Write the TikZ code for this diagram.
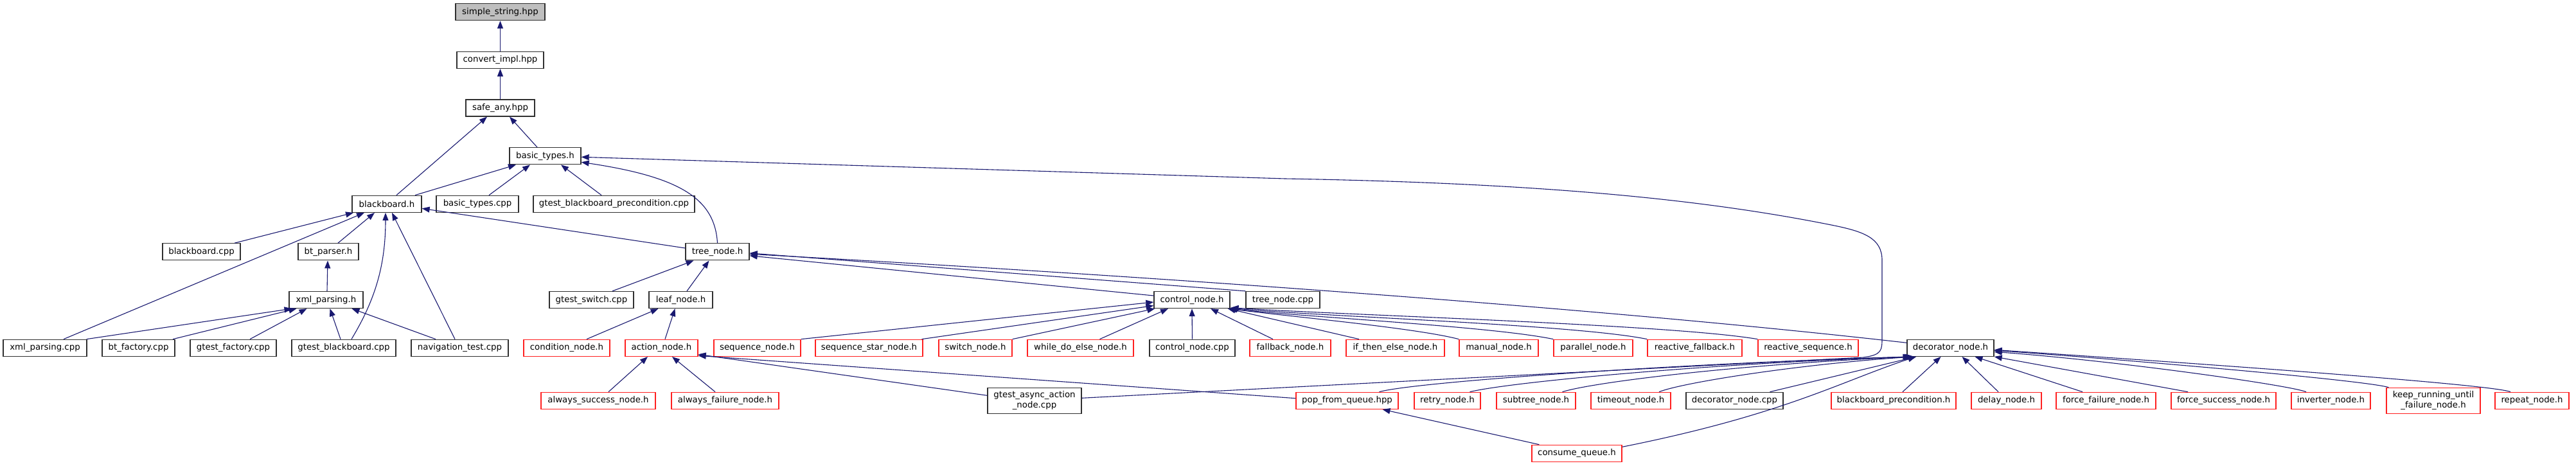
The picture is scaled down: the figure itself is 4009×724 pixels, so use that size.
\documentclass[tikz,border=0pt]{standalone}
\usepackage{fontspec}
\setmainfont{DejaVu Sans}
\usetikzlibrary{arrows.meta}
\definecolor{edgeblue}{HTML}{191970}
\definecolor{nodered}{HTML}{FF2020}
\definecolor{rootgray}{HTML}{BFBFBF}
\definecolor{boxline}{HTML}{303030}
\tikzset{
  box/.style={draw=boxline, line width=1.3pt, fill=white, minimum height=26pt, inner sep=0pt, align=center,
    font=\fontsize{13.33pt}{15.7pt}\selectfont},
  rbox/.style={box, draw=nodered},
  tall/.style={minimum height=40pt},
  edge/.style={draw=edgeblue, line width=1.1pt, -{Triangle[length=12pt,width=9pt]}},
}
\begin{document}
\begin{tikzpicture}[x=1pt,y=-1pt]
\useasboundingbox (0,0) rectangle (4009,724);
\fill[white] (0,0) rectangle (4009,724);
% row 1-5
\node[box,fill=rootgray,minimum width=139pt] (ss) at (778.5,18.7) {simple\_string.hpp};
\node[box,minimum width=135pt] (ci) at (778.5,93.3) {convert\_impl.hpp};
\node[box,minimum width=107pt] (sa) at (778.5,168) {safe\_any.hpp};
\node[box,minimum width=111pt] (bt) at (848.5,242.7) {basic\_types.h};
\node[box,minimum width=108pt] (bb) at (602,317.3) {blackboard.h};
\node[box,minimum width=128pt] (btc) at (743,317.3) {basic\_types.cpp};
\node[box,minimum width=251pt] (gbp) at (955.5,317.3) {gtest\_blackboard\_precondition.cpp};
% row 6
\node[box,minimum width=121pt] (bbc) at (313.5,391.8) {blackboard.cpp};
\node[box,minimum width=94pt] (bp) at (511,391.8) {bt\_parser.h};
\node[box,minimum width=99pt] (tn) at (1116.5,391.8) {tree\_node.h};
% row 7
\node[box,minimum width=115pt] (xp) at (507.5,466.5) {xml\_parsing.h};
\node[box,minimum width=131pt] (gsw) at (920.5,466.5) {gtest\_switch.cpp};
\node[box,minimum width=99pt] (ln) at (1059.5,466.5) {leaf\_node.h};
\node[box,minimum width=118pt] (cn) at (1855,466.5) {control\_node.h};
\node[box,minimum width=115pt] (tnc) at (1996.5,466.5) {tree\_node.cpp};
% row 8
\node[box,minimum width=130pt] (xpc) at (70,541.3) {xml\_parsing.cpp};
\node[box,minimum width=113pt] (bf) at (215.5,541.3) {bt\_factory.cpp};
\node[box,minimum width=134pt] (gf) at (363,541.3) {gtest\_factory.cpp};
\node[box,minimum width=162pt] (gb) at (535,541.3) {gtest\_blackboard.cpp};
\node[box,minimum width=151pt] (nt) at (715.5,541.3) {navigation\_test.cpp};
\node[rbox,minimum width=134pt] (cond) at (882,541.3) {condition\_node.h};
\node[rbox,minimum width=113pt] (an) at (1029.5,541.3) {action\_node.h};
\node[rbox,minimum width=135pt] (seq) at (1178.5,541.3) {sequence\_node.h};
\node[rbox,minimum width=167pt] (seqs) at (1352.5,541.3) {sequence\_star\_node.h};
\node[rbox,minimum width=114pt] (sw) at (1518,541.3) {switch\_node.h};
\node[rbox,minimum width=165pt] (wde) at (1681.5,541.3) {while\_do\_else\_node.h};
\node[box,minimum width=133pt] (cnc) at (1855.5,541.3) {control\_node.cpp};
\node[rbox,minimum width=126pt] (fb) at (2008,541.3) {fallback\_node.h};
\node[rbox,minimum width=153pt] (ite) at (2171.5,541.3) {if\_then\_else\_node.h};
\node[rbox,minimum width=123pt] (man) at (2332.5,541.3) {manual\_node.h};
\node[rbox,minimum width=123pt] (par) at (2479.5,541.3) {parallel\_node.h};
\node[rbox,minimum width=147pt] (rf) at (2637.5,541.3) {reactive\_fallback.h};
\node[rbox,minimum width=156pt] (rs) at (2814,541.3) {reactive\_sequence.h};
\node[box,minimum width=135pt] (dn) at (3035.5,541.3) {decorator\_node.h};
% row 9
\node[rbox,minimum width=178pt] (asn) at (931,623.3) {always\_success\_node.h};
\node[rbox,minimum width=167pt] (afn) at (1128.5,623.3) {always\_failure\_node.h};
\node[box,tall,minimum width=146pt] (ga) at (1610,623.3) {gtest\_async\_action\\\_node.cpp};
\node[rbox,minimum width=159pt] (pq) at (2096.5,623.3) {pop\_from\_queue.hpp};
\node[rbox,minimum width=103pt] (rn) at (2252.5,623.3) {retry\_node.h};
\node[rbox,minimum width=123pt] (stn) at (2390.5,623.3) {subtree\_node.h};
\node[rbox,minimum width=124pt] (ton) at (2538,623.3) {timeout\_node.h};
\node[box,minimum width=151pt] (dnc) at (2699.5,623.3) {decorator\_node.cpp};
\node[rbox,minimum width=194pt] (bpc) at (2947,623.3) {blackboard\_precondition.h};
\node[rbox,minimum width=109pt] (dl) at (3122.5,623.3) {delay\_node.h};
\node[rbox,minimum width=155pt] (ff) at (3277.5,623.3) {force\_failure\_node.h};
\node[rbox,minimum width=163pt] (fs) at (3460.5,623.3) {force\_success\_node.h};
\node[rbox,minimum width=123pt] (inv) at (3627.5,623.3) {inverter\_node.h};
\node[rbox,tall,minimum width=146pt] (kr) at (3787,623.3) {keep\_running\_until\\\_failure\_node.h};
\node[rbox,minimum width=115pt] (rp) at (3940.5,623.3) {repeat\_node.h};
% row 10
\node[rbox,minimum width=140pt] (cq) at (2454,705.3) {consume\_queue.h};

% ---- edges ----
\draw[edge] (ci.north) -- (ss.south);
\draw[edge] (sa.north) -- (ci.south);
\draw[edge] ([xshift=15pt]bb.north) -- ([xshift=-20.5pt]sa.south);
\draw[edge] ([xshift=-12.5pt]bt.north) -- ([xshift=14.5pt]sa.south);
\draw[edge] ([xshift=44pt]bb.north) -- ([xshift=-45.5pt]bt.south);
\draw[edge] ([xshift=18pt]btc.north) -- ([xshift=-23.5pt]bt.south);
\draw[edge] ([xshift=-19.5pt]gbp.north) -- ([xshift=24.5pt]bt.south);
\draw[edge] (tn.north) .. controls +(-4,-69) and +(154,23) .. ([yshift=-9.6pt]bt.east);
\draw[edge] ([yshift=4pt]ga.east) -- (2900,556) .. controls (2929,552) and (2929,545) .. (2929,525) -- (2929,405)
  .. controls (2929,370) and (2900,360) .. (2850,350) .. controls (2650,310) and (2400,285) .. (2000,278) -- ([yshift=-1.6pt]bt.east);
% blackboard.h
\draw[edge] ([xshift=51.5pt]bbc.north) -- ([xshift=-52pt]bb.south);
\draw[edge] ([xshift=29pt]xpc.north) -- ([xshift=-35pt]bb.south);
\draw[edge] ([xshift=15pt]bp.north) -- ([xshift=-19pt]bb.south);
\draw[edge] ([xshift=12pt]gb.north) .. controls +(38,-63) and +(0,80) .. ([xshift=-2pt]bb.south);
\draw[edge] ([xshift=-7.5pt]nt.north) -- ([xshift=8pt]bb.south);
\draw[edge] ([yshift=5.8pt]tn.west) -- ([yshift=-7pt]bb.east);
% bt_parser / xml_parsing
\draw[edge] ([xshift=1.5pt]xp.north) -- ([xshift=-1pt]bp.south);
\draw[edge] ([xshift=-1pt]xpc.north east) -- ([xshift=-53pt]xp.south);
\draw[edge] ([xshift=53.5pt]bf.north) -- ([xshift=-46pt]xp.south);
\draw[edge] ([xshift=26pt]gf.north) -- ([xshift=-30pt]xp.south);
\draw[edge] ([xshift=-5pt]gb.north) -- ([xshift=6pt]xp.south);
\draw[edge] ([xshift=-37.5pt]nt.north) -- ([xshift=40pt]xp.south);
% tree_node.h
\draw[edge] ([xshift=32.5pt]gsw.north) -- ([xshift=-37pt]tn.south);
\draw[edge] ([xshift=9.5pt]ln.north) -- ([xshift=-13pt]tn.south);
\draw[edge] ([yshift=6.5pt]cn.west) -- ([yshift=-6pt]tn.east);
\draw[edge] (tnc.north west) -- ([yshift=-2pt]tn.east);
\draw[edge] ([yshift=8pt]dn.west) .. controls (2500,480) and (1800,430) .. ([yshift=-3.5pt]tn.east);
% leaf_node.h
\draw[edge] ([xshift=31pt]cond.north) -- ([xshift=-35pt]ln.south);
\draw[edge] ([xshift=5.5pt]an.north) -- ([xshift=-9pt]ln.south);
% action_node.h
\draw[edge] ([xshift=16pt]asn.north) -- ([xshift=-21.5pt]an.south);
\draw[edge] ([xshift=-15.5pt]afn.north) -- ([xshift=16.5pt]an.south);
\draw[edge] ([yshift=8pt]ga.west) -- ([yshift=-10pt]an.east);
\draw[edge] ([yshift=3.6pt]pq.west) -- ([yshift=-12pt]an.east);
% control_node.h
\draw[edge] (seq.north east) -- ([yshift=-3.5pt]cn.west);
\draw[edge] ([xshift=82pt]seqs.north) -- ([yshift=-9pt]cn.west);
\draw[edge] (sw.north east) -- ([xshift=2pt]cn.south west);
\draw[edge] ([xshift=30pt]wde.north) -- ([xshift=-37pt]cn.south);
\draw[edge] (cnc.north) -- (cn.south);
\draw[edge] ([xshift=-27pt]fb.north) -- ([xshift=29pt]cn.south);
\draw[edge] ([xshift=-56.5pt]ite.north) -- ([xshift=-4pt]cn.south east);
\draw[edge] (man.north west) .. controls +(-70,-18) and +(90,12) .. ([xshift=-2pt]cn.south east);
\draw[edge] (par.north west) .. controls +(-96,-20) and +(116,13) .. ([xshift=-1pt]cn.south east);
\draw[edge] (rf.north west) .. controls +(-113,-23) and +(134,13) .. ([xshift=0pt,yshift=1pt]cn.south east);
\draw[edge] (rs.north west) .. controls +(-136,-23) and +(184,12) .. ([xshift=1pt,yshift=1.5pt]cn.south east);
% decorator_node.h
\draw[edge] ([xshift=50pt]pq.north) .. controls +(53,-15) and +(-373,11) .. ([xshift=6pt]dn.south west);
\draw[edge] ([xshift=35pt]rn.north) .. controls +(62,-15) and +(-323,11) .. ([xshift=8pt]dn.south west);
\draw[edge] ([xshift=41pt]stn.north) .. controls +(48,-15) and +(-273,12) .. ([xshift=10pt]dn.south west);
\draw[edge] ([xshift=44pt]ton.north) .. controls +(38,-15) and +(-173,11) .. ([xshift=12pt]dn.south west);
\draw[edge] ([xshift=55pt]dnc.north) -- ([xshift=15pt]dn.south west);
\draw[edge] ([yshift=10pt]cq.east) .. controls +(250,-50) and +(-120,40) .. ([xshift=14pt]dn.south west);
\draw[edge] ([xshift=14pt]bpc.north) -- ([xshift=-15pt]dn.south);
\draw[edge] ([xshift=-12.5pt]dl.north) -- ([xshift=18pt]dn.south);
\draw[edge] ([xshift=-36.5pt]ff.north) -- ([xshift=38pt]dn.south);
\draw[edge] ([xshift=-55.5pt]fs.north) -- (dn.south east);
\draw[edge] ([xshift=-38.5pt]inv.north) .. controls +(-25,-10) and +(200,15) .. ([yshift=-6pt]dn.east);
\draw[edge] ([xshift=4pt]kr.north west) .. controls +(-40,-12) and +(150,10) .. ([yshift=-4pt]dn.east);
\draw[edge] ([xshift=-33.5pt]rp.north) .. controls +(-30,-12) and +(300,20) .. ([yshift=-3pt]dn.east);
% pop_from_queue.hpp
\draw[edge] ([xshift=12pt]cq.north west) -- ([xshift=55pt]pq.south);
\end{tikzpicture}
\end{document}
